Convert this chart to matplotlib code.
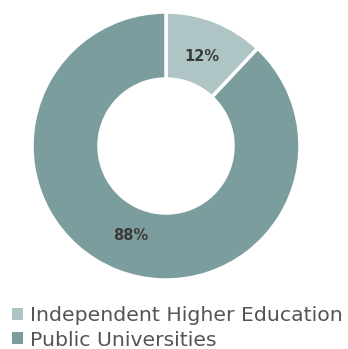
import matplotlib.pyplot as plt
from matplotlib.patches import Patch

labels = ["Independent Higher Education", "Public Universities"]
values = [12, 88]
colors = ["#afc5c5", "#7c9d9d"]

fig = plt.figure(figsize=(3.48, 3.49), dpi=100)
ax = fig.add_axes([166/348 - 134/348, 1 - (146 + 134)/349, 268/348, 268/349])

wedges, texts, autotexts = ax.pie(
    values, colors=colors, startangle=90, counterclock=False,
    autopct="%d%%", pctdistance=0.72,
    wedgeprops=dict(width=0.5, edgecolor="white", linewidth=2.5),
    textprops=dict(color="#3a3a3a", fontsize=10.5, fontweight="bold"),
)
ax.set_xlim(-1, 1)
ax.set_ylim(-1, 1)
ax.set_aspect("equal")

handles = [Patch(facecolor=c) for c in colors]
fig.legend(handles, labels, loc="lower left", bbox_to_anchor=(0.01, -0.025),
           frameon=False, fontsize=14.7, labelcolor="#555555",
           handlelength=0.55, handleheight=0.55, handletextpad=0.35,
           labelspacing=0.25, borderaxespad=0)

fig.savefig("out.png", dpi=100)
